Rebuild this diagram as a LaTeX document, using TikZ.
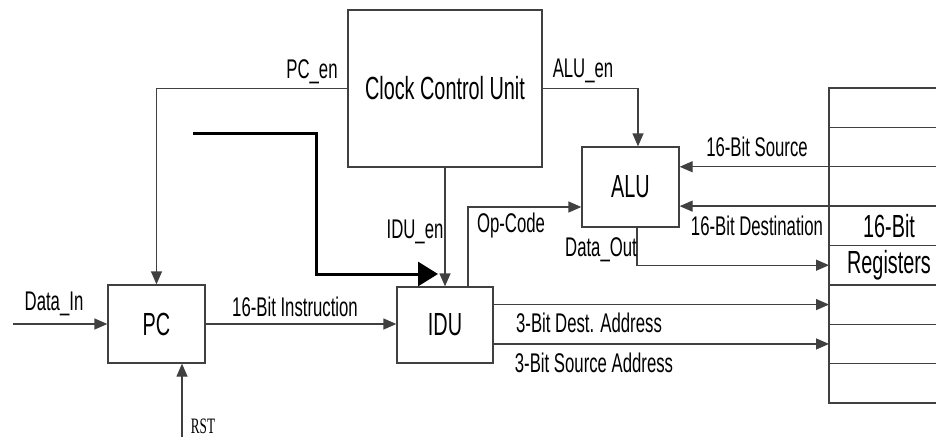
\documentclass[tikz,border=0pt]{standalone}
\usepackage{fontspec}
\setmainfont[FakeStretch=0.62]{Liberation Sans}
\newfontfamily\rstfont[FakeStretch=0.6]{Liberation Serif}
\usetikzlibrary{arrows.meta,positioning}

\begin{document}
\begin{tikzpicture}[
  x=1pt, y=-1pt,
  font=\fontsize{27}{29}\selectfont,
  box/.style={draw=black!75, line width=1.3pt, minimum width=97pt, minimum height=78pt,
              inner sep=2pt, font=\fontsize{32}{34}\selectfont},
  regrow/.style={draw=black!75, line width=1.3pt, minimum width=120pt, minimum height=39.375pt,
                 inner sep=0pt, outer sep=0pt, font=\fontsize{32}{34}\selectfont},
  arr/.style={-{Triangle[length=13pt,width=11pt]}, line width=1.3pt, draw=black!75},
  bus/.style={-{Triangle[length=20pt,width=24pt]}, line width=3pt},
  lbl/.style={inner sep=1pt}
]
\useasboundingbox (0,0) rectangle (936,439);

\node[box, minimum width=194pt, minimum height=157pt] (ccu) at (445,88.5) {Clock Control Unit};
\node[box] (pc) at (156.5,324) {PC};
\node[box, minimum width=96pt, minimum height=76pt] (idu) at (445,325) {IDU};
\node[box, minimum height=80pt] (alu) at (630.5,187) {ALU};

% register file
\node[regrow] (r1) at (889,107.7) {};
\node[regrow, below=0pt of r1] (r2) {};
\node[regrow, below=0pt of r2] (r3) {};
\node[regrow, below=0pt of r3] (r4) {16-Bit};
\node[regrow, below=0pt of r4] (r5) {Registers};
\node[regrow, below=0pt of r5] (r6) {};
\node[regrow, below=0pt of r6] (r7) {};
\node[regrow, below=0pt of r7] (r8) {};

\coordinate (din) at (13,324);
\coordinate (rst) at (182,437);
\coordinate (busin) at (193,133);
\coordinate (bend) at (316,133);
\coordinate (busout) at (438,274);

\draw[arr] (din) -- (pc.west);
\draw[arr] (rst) -- (rst |- pc.south);
\draw[arr] (pc.east) -- (pc.east -| idu.west);
\draw[arr] (ccu.west) -| (pc.north);
\draw[arr] (ccu.south) -- (idu.north);
\draw[arr] (ccu.east) -| ([xshift=7.5pt]alu.north);
\draw[bus] (busin) -- (bend) |- (busout);
\draw[arr] ([xshift=23pt]idu.north) |- ([yshift=-20pt]alu.west);
\draw[arr] (r2.south west) -- (r2.south west -| alu.east);
\draw[arr] (r3.south west) -- (r3.south west -| alu.east);
\draw[arr] ([xshift=6.5pt]alu.south) |- (r5.west);
\draw[arr] (idu.east |- r6.west) -- (r6.west);
\draw[arr] (idu.east |- r7.west) -- (r7.west);

% labels
\node[lbl] (pcen) at (312,72) {PC\_en};
\node[lbl] (aluen) at (583,71) {ALU\_en};
\node[lbl] (iduen) at (415,232) {IDU\_en};
\node[lbl] (datain) at (54,304) {Data\_In};
\node[lbl] (instr) at (295,307) {16-Bit Instruction};
\node[lbl] (opcode) at (511,226) {Op-Code};
\node[lbl] (src) at (757,147) {16-Bit Source};
\node[lbl] (dst) at (757,226) {16-Bit Destination};
\node[lbl] (dout) at (601,250) {Data\_Out};
\node[lbl] (dadr) at (589,323) {3-Bit Dest. Address};
\node[lbl] (sadr) at (594,363) {3-Bit Source Address};
\node[lbl, font=\rstfont\fontsize{22}{24}\selectfont] (rstl) at (203,426) {RST};
\end{tikzpicture}
\end{document}
